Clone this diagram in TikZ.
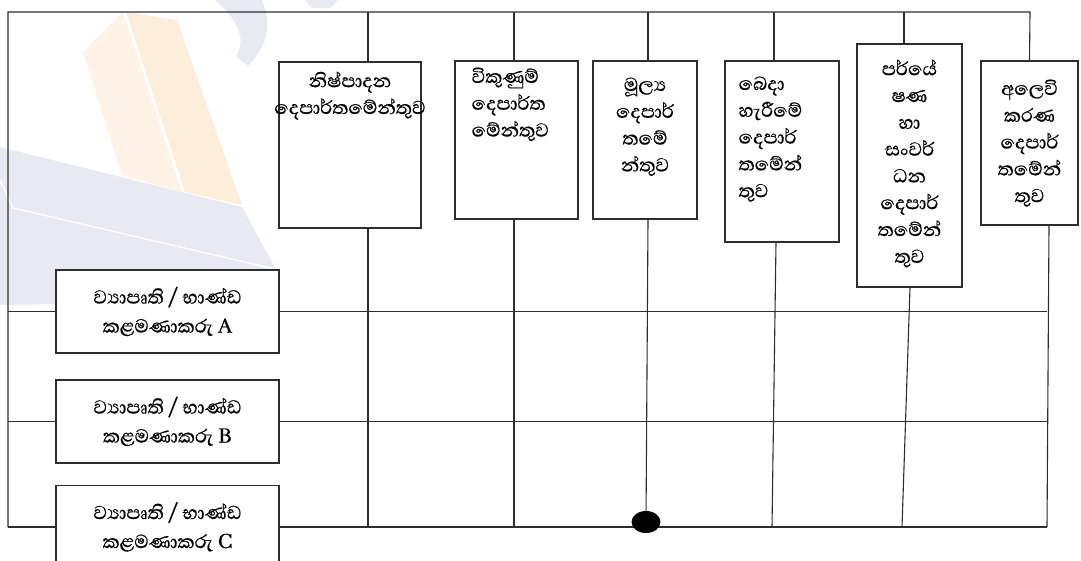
\documentclass[tikz,border=0pt]{standalone}
\usepackage{fontspec}
\newfontfamily\sinhala[Script=Sinhala,FakeBold=0.6]{Abhaya Libre}
\usetikzlibrary{positioning,shapes.geometric}
\definecolor{ink}{HTML}{2E2E2E}
\definecolor{wmblue}{HTML}{E7E9F3}
\definecolor{wmorange}{HTML}{FEF3E6}
\definecolor{wmorangeb}{HTML}{FDEDDB}
\tikzset{
  dept/.style={draw=ink,line width=1.1pt,fill=white,inner sep=0pt},
  depttxt/.style={align=center,inner sep=0pt,font=\sinhala\fontsize{24}{26.8}\selectfont},
  mgr/.style={draw=ink,line width=1.1pt,fill=white,minimum width=223pt,minimum height=83pt,
              inner sep=0pt,align=center,font=\sinhala\fontsize{24}{29}\selectfont},
  link/.style={draw=ink,line width=1.1pt},
  hubdot/.style={ellipse,fill=black,minimum width=29pt,minimum height=22pt,inner sep=0pt}
}

\begin{document}
\begin{tikzpicture}[x=1pt,y=-1pt]
\useasboundingbox (0,0) rectangle (1081,560);
% faint logo in the background
\fill[wmblue] (0,147) -- (242,207) -- (279,275) -- (279,300) -- (0,305) -- cycle;
\draw[white,line width=1.4pt] (0,180) -- (13,208) -- (279,270);
\fill[wmorange] (83,52) -- (123,12) -- (182,192) -- (122,175) -- cycle;
\fill[wmorangeb] (126,12) -- (177,20) -- (242,205) -- (185,192) -- cycle;
\fill[wmblue] (215,0) -- (262,0) .. controls (272,25) and (268,45) .. (248,66)
  -- (236,56) .. controls (246,40) and (240,22) .. cycle;
\fill[wmblue] (305,0) -- (338,0) -- (330,8) -- (312,8) -- cycle;

% bus and columns
\coordinate (busTL) at (8,12);
\coordinate (busBL) at (8,527);
\coordinate (t1) at (368,12);  \coordinate (f1) at (368,527);
\coordinate (t2) at (514,12);  \coordinate (f2) at (514,527);
\coordinate (t3) at (648,12);
\coordinate (t4) at (774,12);  \coordinate (u4) at (776,0);  \coordinate (f4) at (772,527);
\coordinate (t5) at (904,12);  \coordinate (u5) at (910,0);  \coordinate (f5) at (902,527);
\coordinate (t6) at (1030,12); \coordinate (u6) at (1049,0); \coordinate (f6) at (1047,527);

% departments
\node[dept,minimum width=142pt,minimum height=166pt] (prod)  at (350,145)   {};
\node[dept,minimum width=123pt,minimum height=158pt] (sales) at (516.5,140) {};
\node[dept,minimum width=104pt,minimum height=158pt] (fin)   at (645,140)   {};
\node[dept,minimum width=114pt,minimum height=181pt] (dist)  at (782,151.5) {};
\node[dept,minimum width=105pt,minimum height=243pt] (rnd)   at (909.5,165.5) {};
\node[dept,minimum width=97pt,minimum height=164pt]  (mkt)   at (1029.5,143) {};

\node[depttxt,below=10pt of prod.north] (prodtxt) {නිෂ්පාදන\\දෙපාර්තමේන්තුව};
\node[depttxt,align=left,below right=7pt and 17pt of sales.north west] (salestxt) {විකුණුම්\\දෙපාර්ත\\මේන්තුව};
\node[depttxt,below=17pt of fin.north] (fintxt) {මූල්‍ය\\දෙපාර්\\තමේ\\න්තුව};
\node[depttxt,align=left,below right=16pt and 14pt of dist.north west] (disttxt) {බෙදා\\හැරීමේ\\දෙපාර්\\තමේන්\\තුව};
\node[depttxt,below=16pt of rnd.north] (rndtxt) {පර්යේ\\ෂණ\\හා\\සංවර්\\ධන\\දෙපාර්\\තමේන්\\තුව};
\node[depttxt,below=19pt of mkt.north] (mkttxt) {අලෙවි\\කරණ\\දෙපාර්\\තමේන්\\තුව};

% managers
\node[mgr] (mgrA) at (167.5,311.5) {ව්‍යාපෘති / භාණ්ඩ\\කළමණාකරු A};
\node[mgr] (mgrB) at (167.5,421.5) {ව්‍යාපෘති / භාණ්ඩ\\කළමණාකරු B};
\node[mgr] (mgrC) at (167.5,527)   {ව්‍යාපෘති / භාණ්ඩ\\කළමණාකරු C};

\draw[link] (busBL) -- (busTL) -- (t6) -- (mkt.north);
\draw[link] (t1) -- (t1 |- prod.north);
\draw[link] (t2) -- (t2 |- sales.north);
\draw[link] (t3) -- (t3 |- fin.north);
\draw[link] (t4) -- (t4 |- dist.north);
\draw[link] (t5) -- (t5 |- rnd.north);

% rows
\draw[link] (busTL |- mgrA.west) -- (mgrA.west);
\draw[link] (busTL |- mgrB.west) -- (mgrB.west);
\draw[link] (busBL) -- (mgrC.west);
\draw[link] (mgrA.east) -- (f6 |- mgrA.east);
\draw[link] (mgrB.east) -- (f6 |- mgrB.east);
\draw[link] (mgrC.east) -- (f6);

% columns down to the bottom row
\node[hubdot] (hub) at (646,522) {};
\draw[link] (t1 |- prod.south) -- (f1);
\draw[link] (t2 |- sales.south) -- (f2);
\draw[link] (t3 |- fin.south) -- (hub);
\draw[link] (u4 |- dist.south) -- (f4);
\draw[link] (u5 |- rnd.south) -- (f5);
\draw[link] (u6 |- mkt.south) -- (f6);
\end{tikzpicture}
\end{document}
